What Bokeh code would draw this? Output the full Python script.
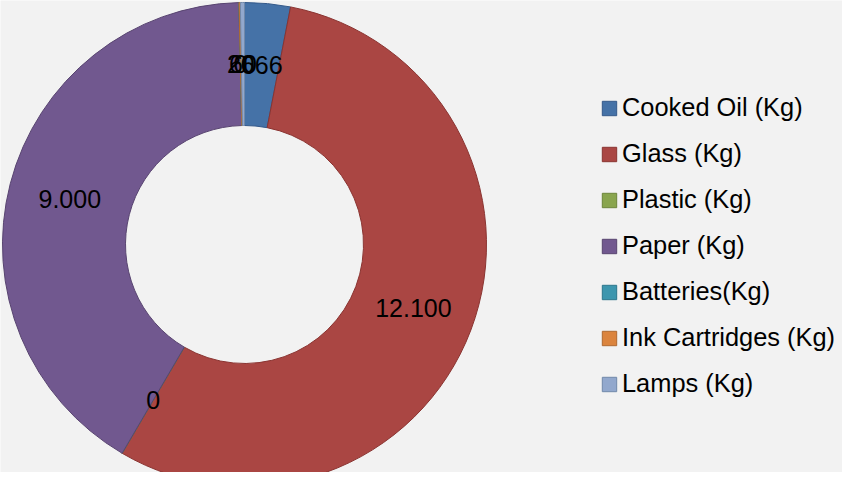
import math
from bokeh.plotting import figure
from bokeh.models import ColumnDataSource, Range1d
from bokeh.core.properties import value
from bokeh.embed import file_html
from bokeh.resources import INLINE

categories = ["Cooked Oil (Kg)", "Glass (Kg)", "Plastic (Kg)", "Paper (Kg)",
              "Batteries(Kg)", "Ink Cartridges (Kg)", "Lamps (Kg)"]
values = [666, 12100, 0, 9000, 0, 20, 60]
fill_colors = ["#4572A7", "#AA4643", "#89A54E", "#71588F", "#3D96AE", "#DB843D", "#92A8CD"]
line_colors = ["#34598A", "#8A3431", "#6C853A", "#584470", "#2C778C", "#B0692F", "#7189AA"]

W, H = 842, 472
cx, cy = 244, H - 244
r_out, r_in = 242, 119
r_lab = (r_out + r_in) / 2
eps = 1e-4

total = sum(values)
starts, ends, lx, ly, labels = [], [], [], [], []
cum = 0.0
for v in values:
    a0 = cum / total * 2 * math.pi
    cum += v
    a1 = cum / total * 2 * math.pi
    starts.append(math.pi / 2 - a0)
    ends.append(math.pi / 2 - max(a1, a0 + eps))
    mid = (a0 + a1) / 2
    lx.append(cx + r_lab * math.sin(mid))
    ly.append(cy + r_lab * math.cos(mid))
    labels.append(f"{v:,}".replace(",", "."))

src = ColumnDataSource(dict(cat=categories, start=starts, end=ends,
                            fill=fill_colors, line=line_colors,
                            lx=lx, ly=ly, lab=labels))

p = figure(width=W, height=H, output_backend="svg", toolbar_location=None,
           x_range=Range1d(0, W), y_range=Range1d(0, H), min_border=0)
p.axis.visible = False
p.grid.visible = False
p.outline_line_color = None
p.background_fill_color = "#F2F2F2"
p.border_fill_color = "#F2F2F2"

p.annular_wedge(x=cx, y=cy, inner_radius=r_in, outer_radius=r_out,
                start_angle="start", end_angle="end", direction="clock",
                fill_color="fill", line_color="line", line_width=1,
                source=src, legend_field="cat")

p.text(x="lx", y="ly", text="lab", source=src, text_align="center",
       text_baseline="middle", text_font=value("Liberation Sans"),
       text_font_size="25px", text_color="black")

leg = p.legend[0]
leg.location = (600, 73)
leg.glyph_width = 18
leg.glyph_height = 18
leg.label_height = 31
leg.spacing = 15
leg.padding = 0
leg.margin = 0
leg.label_standoff = 4
leg.label_text_font = "Liberation Sans"
leg.label_text_font_size = "25.4px"
leg.label_text_color = "black"
leg.border_line_color = None
leg.background_fill_alpha = 0

open("out.html", "w").write(file_html(p, INLINE))
